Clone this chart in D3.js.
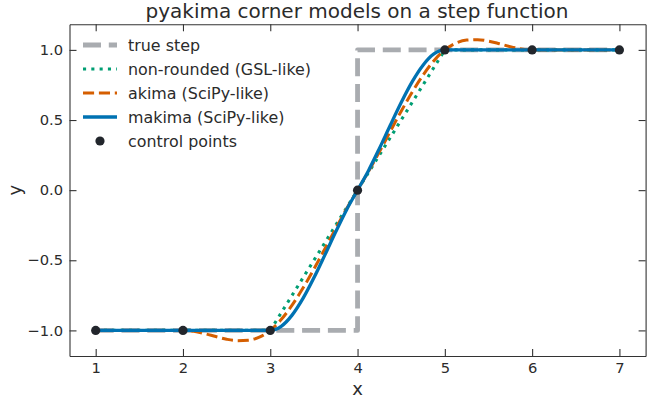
<!DOCTYPE html>
<html lang="en">
<head>
<meta charset="utf-8">
<script src="https://cdn.jsdelivr.net/npm/d3@7"></script>
<style>
  body { margin: 0; background: #fff; }
  svg { font-family: "DejaVu Sans", sans-serif; }
</style>
</head>
<body>
<div id="chart"></div>
<script>

// control points
var ctrlX = [1, 2, 3, 4, 5, 6, 7];
var ctrlY = [-1, -1, -1, 0, 1, 1, 1];

// true step (corner at x = 4)
var stepX = [1, 4, 4, 7];
var stepY = [-1, -1, 1, 1];

// non-rounded (GSL-like): straight between 3 and 5
var gslX = [1, 2, 3, 4, 5, 6, 7];
var gslY = [-1, -1, -1, 0, 1, 1, 1];

// sample positions
var curveX = [1, 2, 2.125, 2.25, 2.375, 2.5, 2.625, 2.75, 2.875, 3,
              3.125, 3.25, 3.375, 3.5, 3.625, 3.75, 3.875, 4,
              4.125, 4.25, 4.375, 4.5, 4.625, 4.75, 4.875, 5,
              5.125, 5.25, 5.375, 5.5, 5.625, 5.75, 5.875, 6, 7];

var akimaY = [-1, -1, -1.007, -1.023, -1.044, -1.063, -1.073, -1.070, -1.048, -1,
              -0.923, -0.820, -0.698, -0.563, -0.419, -0.273, -0.132, 0,
              0.132, 0.273, 0.419, 0.563, 0.698, 0.820, 0.923, 1,
              1.048, 1.070, 1.073, 1.063, 1.044, 1.023, 1.007, 1, 1];

var makimaY = [-1, -1, -1, -1, -1, -1, -1, -1, -1, -1,
               -0.971, -0.891, -0.772, -0.625, -0.463, -0.297, -0.139, 0,
               0.139, 0.297, 0.463, 0.625, 0.772, 0.891, 0.971, 1,
               1, 1, 1, 1, 1, 1, 1, 1, 1];

var xTicks = [1, 2, 3, 4, 5, 6, 7];
var yTicks = [-1.0, -0.5, 0.0, 0.5, 1.0];

var W = 648, H = 403;
var margin = {top: 24.3, right: 2.4, bottom: 47, left: 69.5};
var width = W - margin.left - margin.right,
    height = H - margin.top - margin.bottom;

var txt = "#2b2b2b", spine = "#333333";

var svg = d3.select("#chart").append("svg")
    .attr("width", W)
    .attr("height", H);

var g = svg.append("g")
    .attr("transform", `translate(${margin.left},${margin.top})`);

var x = d3.scaleLinear().domain([0.7, 7.3]).range([0, width]);
var y = d3.scaleLinear().domain([-1.1825, 1.1825]).range([height, 0]);

function pts(xs, ys) { return xs.map(function(d, i){ return [d, ys[i]]; }); }

// lines
var lineLin = d3.line().x(function(d){ return x(d[0]); }).y(function(d){ return y(d[1]); });
var lineSmooth = d3.line().curve(d3.curveMonotoneX)
    .x(function(d){ return x(d[0]); }).y(function(d){ return y(d[1]); });

var series = [
  {name: "true step", data: pts(stepX, stepY), line: lineLin, color: "#a9acb0", w: 4.8, dash: "18,7.8"},
  {name: "non-rounded (GSL-like)", data: pts(gslX, gslY), line: lineLin, color: "#009e73", w: 3.1, dash: "3.1,5.2"},
  {name: "akima (SciPy-like)", data: pts(curveX, akimaY), line: lineSmooth, color: "#d55e00", w: 3, dash: "11.1,4.8"},
  {name: "makima (SciPy-like)", data: pts(curveX, makimaY), line: lineSmooth, color: "#0072b2", w: 3.3, dash: null}
];

series.forEach(function(s){
  g.append("path")
    .datum(s.data)
    .attr("fill", "none")
    .attr("stroke", s.color)
    .attr("stroke-width", s.w)
    .attr("stroke-dasharray", s.dash)
    .attr("stroke-linejoin", "round")
    .attr("d", s.line);
});

g.selectAll("circle.ctrl")
  .data(pts(ctrlX, ctrlY))
  .enter().append("circle")
  .attr("class", "ctrl")
  .attr("cx", function(d){ return x(d[0]); })
  .attr("cy", function(d){ return y(d[1]); })
  .attr("r", 4.6)
  .attr("fill", "#22262c");

// axes, ticks pointing inward on all sides
var fmt = d3.format(".1f");
var ax = [
  {a: d3.axisBottom(x).tickValues(xTicks).tickFormat(d3.format("d")), t: `translate(0,${height})`},
  {a: d3.axisTop(x).tickValues(xTicks).tickFormat(""), t: null},
  {a: d3.axisLeft(y).tickValues(yTicks).tickFormat(fmt), t: null},
  {a: d3.axisRight(y).tickValues(yTicks).tickFormat(""), t: `translate(${width},0)`}
];
ax.forEach(function(o){
  var sel = g.append("g").attr("transform", o.t)
    .call(o.a.tickSize(-7).tickSizeOuter(0).tickPadding(6.5));
  sel.select(".domain").attr("stroke", spine).attr("stroke-width", 1.1);
  sel.selectAll(".tick line").attr("stroke", spine).attr("stroke-width", 1.1);
  sel.selectAll(".tick text").attr("fill", txt).style("font-size", "14.7px")
     .style("font-family", "DejaVu Sans");
});

// title and axis labels
svg.append("text")
  .attr("x", margin.left + width / 2 - 0.5)
  .attr("y", 17.5)
  .attr("text-anchor", "middle")
  .attr("fill", txt)
  .style("font-size", "20px")
  .text("pyakima corner models on a step function");

svg.append("text")
  .attr("x", margin.left + width / 2)
  .attr("y", 395)
  .attr("text-anchor", "middle")
  .attr("fill", txt)
  .style("font-size", "18px")
  .text("x");

svg.append("text")
  .attr("transform", `translate(21,${margin.top + height / 2}) rotate(-90)`)
  .attr("text-anchor", "middle")
  .attr("fill", txt)
  .style("font-size", "18px")
  .text("y");

// legend
var leg = svg.append("g").attr("transform", "translate(83,45)");
var rows = series.map(function(s){ return s; }).concat([{name: "control points", point: true}]);
rows.forEach(function(s, i){
  var r = leg.append("g").attr("transform", `translate(0,${i * 24})`);
  if (s.point) {
    r.append("circle").attr("cx", 17).attr("cy", 0).attr("r", 4.6).attr("fill", "#22262c");
  } else {
    r.append("line")
      .attr("x1", 0).attr("x2", 34).attr("y1", 0).attr("y2", 0)
      .attr("stroke", s.color)
      .attr("stroke-width", s.w)
      .attr("stroke-dasharray", s.dash);
  }
  r.append("text")
    .attr("x", 45)
    .attr("y", 0)
    .attr("dy", "0.35em")
    .attr("fill", txt)
    .style("font-size", "15.9px")
    .text(s.name);
});

</script>
</body>
</html>
